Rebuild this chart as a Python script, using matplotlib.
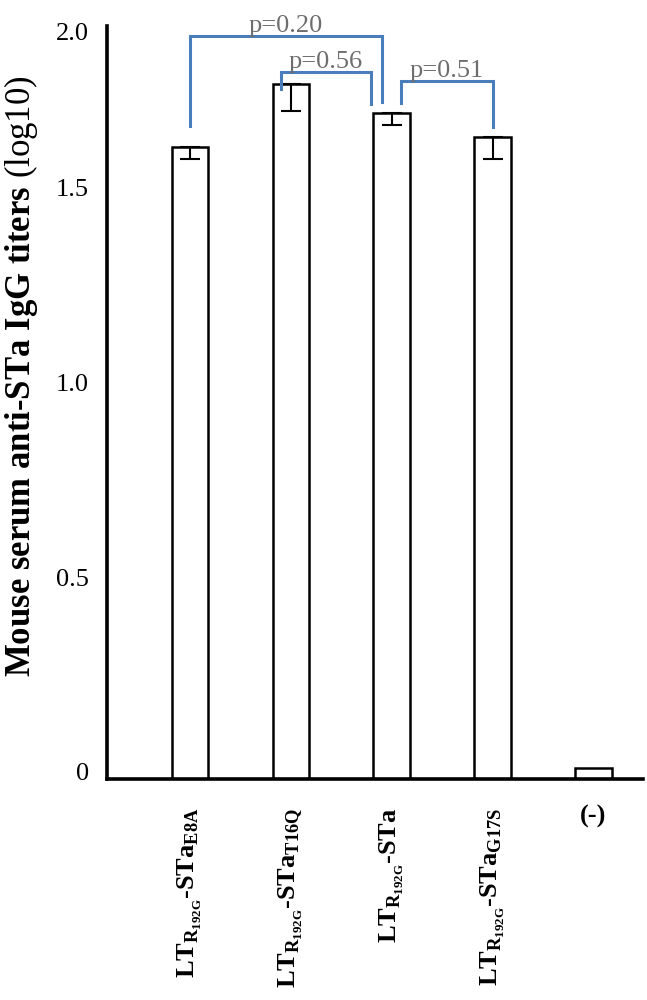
import matplotlib
matplotlib.use('Agg')
import matplotlib.pyplot as plt
import matplotlib.transforms as mtransforms

plt.rcParams['font.family'] = 'Liberation Serif'
plt.rcParams['mathtext.fontset'] = 'custom'
plt.rcParams['mathtext.rm'] = 'Liberation Serif'
plt.rcParams['mathtext.bf'] = 'Liberation Serif:bold'

# data (log10 titers)
groups = [r'LT$_{\mathbf{R}_{\mathbf{192G}}}$-STa$_{\mathbf{E8A}}$',
          r'LT$_{\mathbf{R}_{\mathbf{192G}}}$-STa$_{\mathbf{T16Q}}$',
          r'LT$_{\mathbf{R}_{\mathbf{192G}}}$-STa',
          r'LT$_{\mathbf{R}_{\mathbf{192G}}}$-STa$_{\mathbf{G17S}}$',
          '(-)']
titers = [1.621, 1.782, 1.708, 1.646, 0.028]
errors = [0.031, 0.069, 0.031, 0.056, 0.0]
ytick_vals = [0, 0.5, 1.0, 1.5, 1.931]
ytick_labels = ['0', '0.5', '1.0', '1.5', '2.0']

# significance brackets: (left bar, right bar, p label)
pairs = [(0, 2, 'p=0.20'), (1, 2, 'p=0.56'), (2, 3, 'p=0.51')]
# bracket geometry (x offsets from bar centres, heights)
br_dx = [(0.0, -0.1), (-0.1, -0.2), (0.09, 0.0)]
br_y = [(1.905, 1.674, 1.736), (1.813, 1.769, 1.731), (1.79, 1.733, 1.672)]

fig = plt.figure(figsize=(6.47, 10), dpi=100)
ax = fig.add_axes([0.1654, 0.221, 0.8284, 0.753])

x = list(range(len(titers)))
ax.bar(x, titers, width=0.36, color='white', edgecolor='black', linewidth=1.8, zorder=2)
ax.errorbar(x[:4], titers[:4], yerr=[errors[:4], [0] * 4], fmt='none',
            ecolor='black', elinewidth=1.5, capsize=7.2, capthick=1.5, zorder=3)

blue = '#4a7ebb'
for (i, j, lab), (dl, dr), (ytop, yl, yr) in zip(pairs, br_dx, br_y):
    xl, xr = x[i] + dl, x[j] + dr
    ax.plot([xl, xl, xr, xr], [yl, ytop, ytop, yr], color=blue, lw=2.2,
            solid_joinstyle='miter', clip_on=False, zorder=4)
    ax.text((xl + xr) / 2, ytop - 0.002, lab, ha='center', va='bottom',
            fontsize=19, color='#6e6e6e', zorder=5)

ax.set_xlim(-0.82, 4.49)
ax.set_ylim(0, 1.931)
ax.set_yticks(ytick_vals)
ax.set_yticklabels(ytick_labels, fontsize=19)
ax.set_xticks(x)
ax.set_xticklabels(groups, fontsize=19, fontweight='bold', rotation=90, va='top')
ax.tick_params(axis='both', length=0)
ax.tick_params(axis='y', pad=13)
ax.tick_params(axis='x', pad=24)

up = mtransforms.ScaledTranslation(0, 7 / 100, fig.dpi_scale_trans)
down = mtransforms.ScaledTranslation(0, -6 / 100, fig.dpi_scale_trans)
ylabs = ax.get_yticklabels()
for t in ylabs[:-1]:
    t.set_transform(t.get_transform() + up)
ylabs[-1].set_transform(ylabs[-1].get_transform() + down)

xlabs = ax.get_xticklabels()
raise_rot = mtransforms.ScaledTranslation(0, 5 / 100, fig.dpi_scale_trans)
for t in xlabs[:-1]:
    t.set_transform(t.get_transform() + raise_rot)
xlabs[-1].set_rotation(0)
xlabs[-1].set_transform(xlabs[-1].get_transform() + up)

for s in ['top', 'right']:
    ax.spines[s].set_visible(False)
for s in ['left', 'bottom']:
    ax.spines[s].set_linewidth(2.6)

ax.set_ylabel(r'Mouse serum anti-STa IgG titers $\mathrm{(log10)}$', fontsize=25,
              fontweight='bold')
ax.yaxis.set_label_coords(-0.125, 0.535)

fig.savefig('out.png', dpi=100)
